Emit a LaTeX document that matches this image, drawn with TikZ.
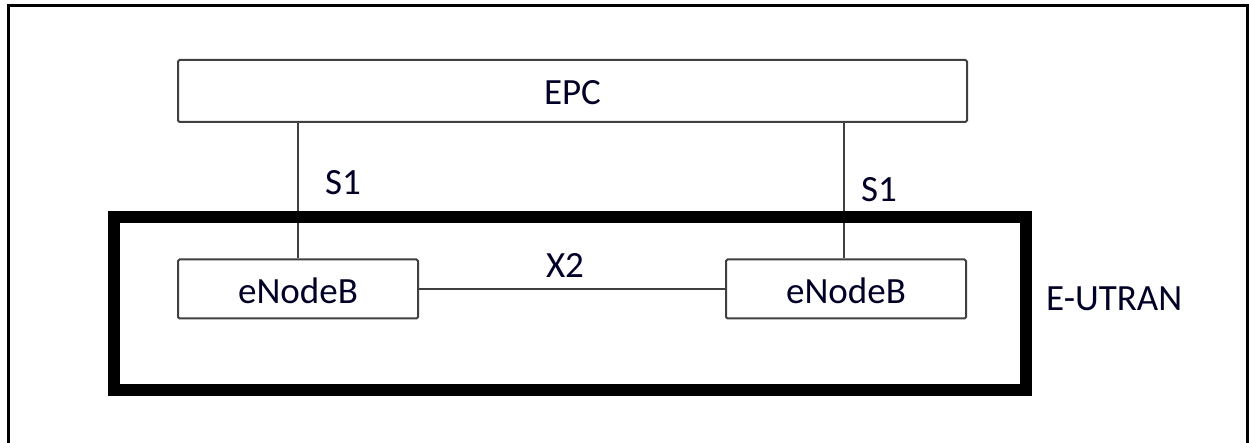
\documentclass[tikz,border=0pt]{standalone}
\usepackage{fontspec}
\setmainfont{Carlito}
\begin{document}
\begin{tikzpicture}[x=1pt,y=-1pt,
  box/.style={draw=black!75,line width=2pt,rounded corners=1.5pt,fill=white,inner sep=0pt},
  lbl/.style={font=\fontsize{37}{40}\selectfont,text=black!85!blue,inner sep=0pt},
  link/.style={draw=black!75,line width=2pt}]
\useasboundingbox (0,0) rectangle (1250,443);
\draw[line width=3pt] (8,445) -- (8,6) -- (1247,6) -- (1247,445);
\node[box,minimum width=789pt,minimum height=62pt] (epc) at (572.5,91) {};
\node[lbl] (epct) at (572.5,93) {EPC};
\node[box,minimum width=240pt,minimum height=59pt] (enb1) at (298,289) {};
\node[lbl] at (298,291) {eNodeB};
\node[box,minimum width=240pt,minimum height=59pt] (enb2) at (846,289) {};
\node[lbl] at (846,291) {eNodeB};
\coordinate (s1a) at (298,122);
\coordinate (s1b) at (844,122);
\draw[link] (s1a) -- (s1a |- enb1.north);
\draw[link] (s1b) -- (s1b |- enb2.north);
\draw[link] (enb1.east) -- (enb2.west);
\draw[line width=12pt] (114,217) rectangle (1025.5,390);
\node[lbl] (s1la) at (343,183) {S1};
\node[lbl] (s1lb) at (879,190) {S1};
\node[lbl] (x2) at (565,265) {X2};
\node[lbl,anchor=west] (eu) at (1046,299) {E-UTRAN};
\end{tikzpicture}
\end{document}
